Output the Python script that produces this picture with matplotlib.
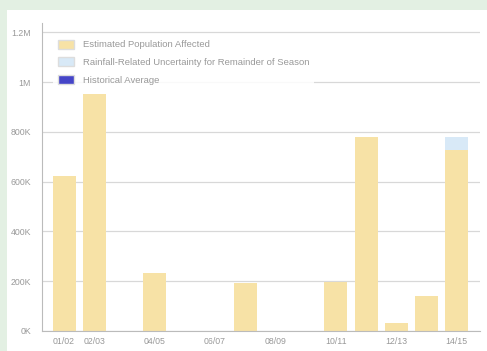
import matplotlib

matplotlib.use("Agg")
import matplotlib.pyplot as plt
from matplotlib.patches import Patch, Rectangle

plt.rcParams["font.family"] = ["Liberation Sans", "DejaVu Sans"]

seasons = ["01/02", "02/03", "03/04", "04/05", "05/06", "06/07", "07/08",
           "08/09", "09/10", "10/11", "11/12", "12/13", "13/14", "14/15"]
affected = [622e3, 952e3, 0, 233e3, 0, 0, 193e3, 0, 0, 197e3, 779e3, 32e3, 141e3, 727e3]
uncertainty = [0, 0, 0, 0, 0, 0, 0, 0, 0, 0, 0, 0, 0, 52e3]
shown_ticks = ["01/02", "02/03", "04/05", "06/07", "08/09", "10/11", "12/13", "14/15"]
y_ticks = [0, 200e3, 400e3, 600e3, 800e3, 1e6, 1.2e6]
y_labels = ["0K", "200K", "400K", "600K", "800K", "1M", "1.2M"]

yellow = "#f7e2a6"
blue_light = "#d8e9f7"
hist_blue = "#4545c8"
grey = "#999999"

fig = plt.figure(figsize=(4.87, 3.51), dpi=100)
fig.patch.set_facecolor("#e3f0e3")
# white card on the green page
fig.patches.append(Rectangle((7 / 487, 0), 1, 1 - 10 / 351, transform=fig.transFigure,
                             facecolor="white", edgecolor="none", zorder=-1))

ax = fig.add_axes([42 / 487, 20 / 351, 438 / 487, 308 / 351])
ax.set_facecolor("none")

x = list(range(len(seasons)))
ax.bar(x, affected, width=0.76, color=yellow, zorder=2)
ax.bar(x, uncertainty, bottom=affected, width=0.76, color=blue_light, zorder=2)

ax.set_ylim(0, 1.237e6)
ax.set_xlim(-0.73, 13.77)
ax.set_yticks(y_ticks)
ax.set_yticklabels(y_labels)
ax.set_xticks([seasons.index(s) for s in shown_ticks])
ax.set_xticklabels(shown_ticks)
ax.tick_params(axis="both", colors=grey, labelsize=6.3, length=0, pad=4)
ax.tick_params(axis="y", pad=8)
ax.grid(axis="y", color="#d8d8d8", lw=0.9, zorder=1)

for side in ["top", "right"]:
    ax.spines[side].set_visible(False)
ax.spines["left"].set_color("#bbbbbb")
ax.spines["bottom"].set_color("#bbbbbb")

handles = [
    Patch(facecolor=yellow, edgecolor="#dddddd", label="Estimated Population Affected"),
    Patch(facecolor=blue_light, edgecolor="#dddddd",
          label="Rainfall-Related Uncertainty for Remainder of Season"),
    Patch(facecolor=hist_blue, edgecolor="#dddddd", label="Historical Average"),
]
leg = ax.legend(handles=handles, loc="upper left", bbox_to_anchor=(0.025, 0.961),
                fontsize=6.8, frameon=True, labelcolor=grey, handlelength=1.7,
                handleheight=1.06, labelspacing=0.85, borderpad=0.5, handletextpad=0.95,
                borderaxespad=0)
leg.get_frame().set_facecolor("white")
leg.get_frame().set_alpha(0.85)
leg.get_frame().set_edgecolor("none")
leg.set_zorder(5)

fig.savefig("out.png", dpi=100, facecolor=fig.get_facecolor())
